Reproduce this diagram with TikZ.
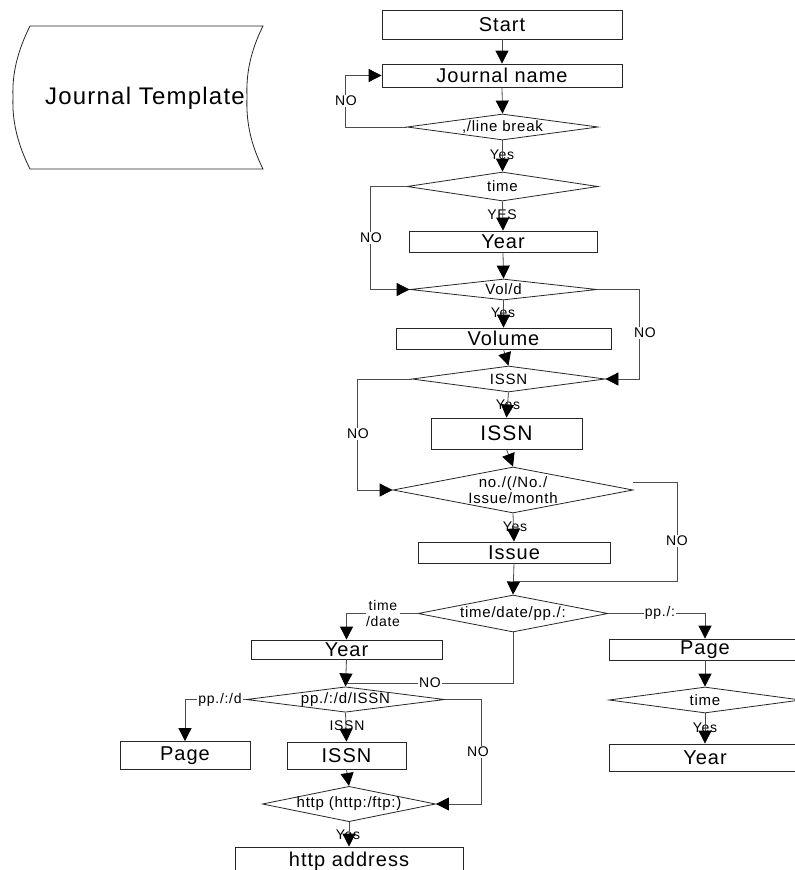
\documentclass[tikz,border=0pt]{standalone}
\usepackage{fontspec}
\setmainfont[LetterSpace=5]{Liberation Sans}
\usetikzlibrary{shapes.geometric,arrows.meta}

\tikzset{
  box/.style={draw=black!85, line width=0.8pt, rectangle, inner sep=0pt,
              font=\fontsize{20}{22}\selectfont},
  dia/.style={draw=black!85, line width=0.8pt, diamond, inner sep=0pt,
              font=\fontsize{15}{17}\selectfont},
  lbl/.style={inner sep=1pt, font=\fontsize{14}{16}\selectfont},
  nolbl/.style={lbl, fill=white},
  conn/.style={draw=black!70, line width=0.8pt},
  arr/.style={conn, -{Triangle[length=13pt,width=13pt,black]}},
}

\begin{document}
\begin{tikzpicture}[x=1pt,y=-1pt]
\fill[white] (0,0) rectangle (795,870);
\useasboundingbox (0,0) rectangle (795,870);

% stored-data shape on the left
\draw[draw=black!85, line width=0.8pt]
  (30,26) -- (263,26)
  .. controls (250,52) and (246,75) .. (247,97)
  .. controls (246,120) and (250,143) .. (263,169)
  -- (30,169)
  .. controls (17,143) and (12,120) .. (13,97)
  .. controls (12,75) and (17,52) .. (30,26) -- cycle;
\node[font=\fontsize{24}{26}\selectfont] (jt) at (145,98) {Journal Template};

% main column
\node[box, minimum width=240pt, minimum height=29pt] (start) at (502,24.5) {Start};
\node[box, minimum width=240pt, minimum height=23pt] (jname) at (502,75.5) {Journal name};
\node[dia, minimum width=191pt, minimum height=26pt, shape aspect=7.3] (d1) at (502.5,127) {,/line break};
\node[dia, minimum width=191pt, minimum height=29pt, shape aspect=6.6] (d2) at (502.5,186.5) {time};
\node[box, minimum width=188pt, minimum height=21pt] (year1) at (503,241.5) {Year};
\node[dia, minimum width=187pt, minimum height=21pt, shape aspect=8.9] (d3) at (503.5,289.5) {Vol/d};
\node[box, minimum width=215pt, minimum height=21pt] (volume) at (503.5,338.5) {Volume};
\node[dia, minimum width=193pt, minimum height=26pt, shape aspect=7.4] (d4) at (508.5,379) {ISSN};
\node[box, minimum width=151pt, minimum height=31pt, font=\fontsize{21}{23}\selectfont] (issnb) at (506.5,433.5) {ISSN};
\node[dia, minimum width=240pt, minimum height=46pt, shape aspect=5.2, align=center,
      font=\fontsize{15}{16}\selectfont] (d5) at (513,490) {no./(/No./\\Issue/month};
\node[box, minimum width=192pt, minimum height=21pt] (issue) at (514,552.5) {Issue};
\node[dia, minimum width=190pt, minimum height=37pt, shape aspect=5.1] (d6) at (513,613.5) {time/date/pp./:};

% left branch
\node[box, minimum width=191pt, minimum height=19pt] (year2) at (346.5,649.5) {Year};
\node[dia, minimum width=195pt, minimum height=25pt, shape aspect=7.8] (d7) at (345.5,699.5) {pp./:/d/ISSN};
\node[box, minimum width=130pt, minimum height=28pt] (page1) at (185,755.5) {Page};
\node[box, minimum width=119pt, minimum height=27pt] (issn2) at (346.5,755.5) {ISSN};
\node[dia, minimum width=166pt, minimum height=34pt, shape aspect=4.9] (d8) at (349,804) {http (http:/ftp:)};
\node[box, minimum width=228pt, minimum height=28pt] (http) at (349,861) {http address};

% right branch
\node[box, minimum width=192pt, minimum height=21pt] (page2) at (705,649.5) {Page};
\node[dia, minimum width=192pt, minimum height=26pt, shape aspect=7.4] (d9) at (705,700) {time};
\node[box, minimum width=192pt, minimum height=27pt] (year3) at (705,757.5) {Year};

% labels that sit under the arrow heads
\node[lbl] (y1) at (502,155) {Yes};
\node[lbl] (y2) at (502,215) {YES};
\node[lbl] (y3) at (503,313) {Yes};
\node[lbl] (y4) at (508,405) {Yes};
\node[lbl] (y5) at (515,527) {Yes};
\node[lbl] (y6) at (347,726) {ISSN};
\node[lbl] (y7) at (348,835) {Yes};
\node[lbl] (y8) at (705,728) {Yes};

% junction points
\coordinate (j6) at (514,581);
\coordinate (j7) at (347,683);

% straight flow
\draw[arr] (start.south) -- (jname.north);
\draw[arr] (jname.south) -- (d1.north);
\draw[arr] (d1.south) -- (d2.north);
\draw[arr] (d2.south) -- (year1.north);
\draw[arr] (year1.south) -- (d3.north);
\draw[arr] (d3.south) -- (volume.north);
\draw[arr] (volume.south) -- (d4.north);
\draw[arr] (d4.south) -- (issnb.north);
\draw[arr] (issnb.south) -- (d5.north);
\draw[arr] (d5.south) -- (issue.north);
\draw[arr] (issue.south) -- (d6.north);
\draw[arr] (year2.south) -- (d7.north);
\draw[arr] (d7.south) -- (issn2.north);
\draw[arr] (issn2.south) -- (d8.north);
\draw[arr] (d8.south) -- (http.north);
\draw[arr] (page2.south) -- (d9.north);
\draw[arr] (d9.south) -- (year3.north);

% loops and branches
\draw[arr] (d1.west) -- ++(-61,0) |- (jname.west);
\draw[arr] (d2.west) -- ++(-36,0) |- (d3.west);
\draw[arr] (d3.east) -- ++(42,0) |- (d4.east);
\draw[arr] (d4.west) -- ++(-54,0) |- (d5.west);
\draw[conn] ([yshift=8pt]d5.east) -- ++(44,0) |- (j6);
\draw[arr] (d6.west) -| (year2.north);
\draw[arr] (d6.east) -| (page2.north);
\draw[conn] (d6.south) |- (j7);
\draw[arr] (d7.west) -| (page1.north);
\draw[arr] (d7.east) -- ++(36,0) |- (d8.east);

% labels that break the lines
\node[nolbl] (n1) at (346,101) {NO};
\node[nolbl] (n2) at (371,238) {NO};
\node[nolbl] (n3) at (645,333) {NO};
\node[nolbl] (n4) at (358,434) {NO};
\node[nolbl] (n5) at (677,541) {NO};
\node[nolbl, align=center, inner sep=0pt] (n6) at (383,613) {time\\/date};
\node[nolbl] (n7) at (660,613) {pp./:};
\node[nolbl] (n8) at (430,683) {NO};
\node[nolbl] (n9) at (220,700) {pp./:/d};
\node[nolbl] (n10) at (478,752) {NO};
\end{tikzpicture}
\end{document}
